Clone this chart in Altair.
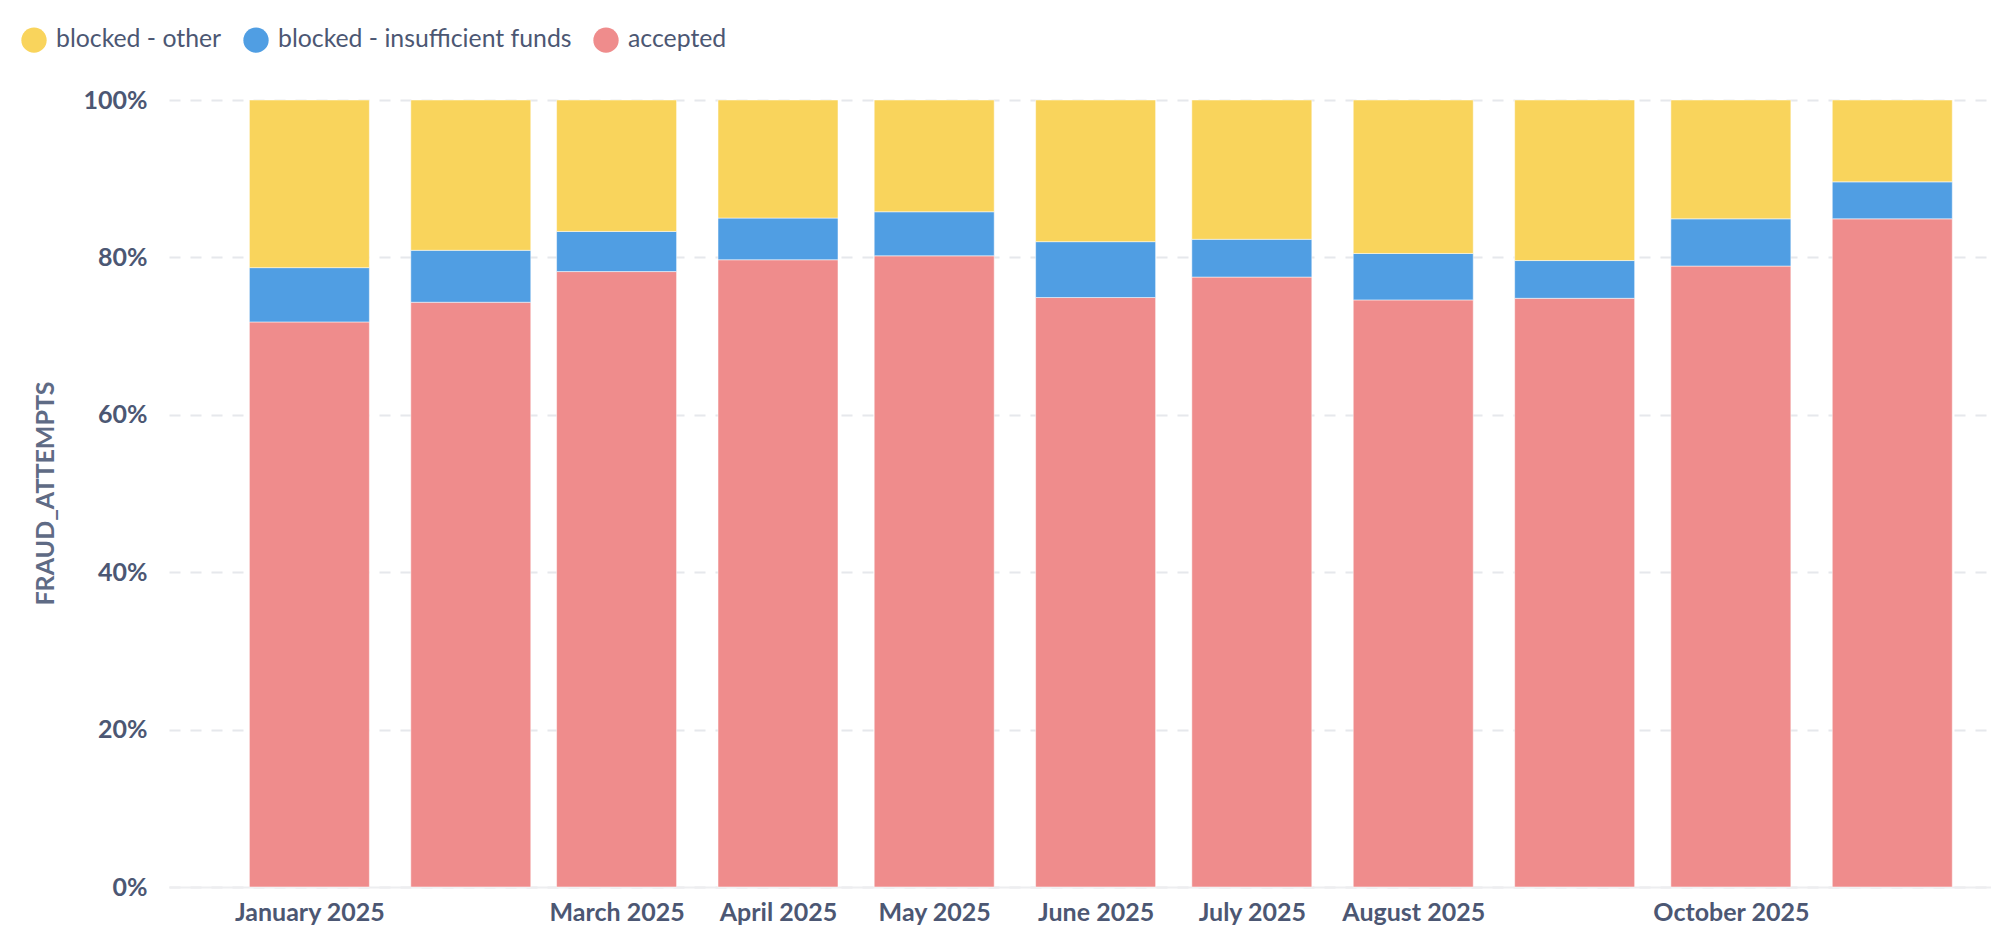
import altair as alt
import pandas as pd

# monthly shares of fraud attempts (percent)
months = [
    "2025-01-01T00:00", "2025-02-01T00:00", "2025-03-01T00:00", "2025-04-01T00:00",
    "2025-05-01T00:00", "2025-06-01T00:00", "2025-07-01T00:00", "2025-08-01T00:00",
    "2025-09-01T00:00", "2025-10-01T00:00", "2025-11-01T00:00",
]
accepted = [71.8, 74.3, 78.2, 79.7, 80.2, 74.9, 77.5, 74.6, 74.8, 78.9, 84.9]
insufficient_funds = [6.9, 6.6, 5.1, 5.3, 5.6, 7.1, 4.8, 5.9, 4.8, 6.0, 4.7]
blocked_other = [21.3, 19.1, 16.7, 15.0, 14.2, 18.0, 17.7, 19.5, 20.4, 15.1, 10.4]

statuses = ["blocked - other", "blocked - insufficient funds", "accepted"]
status_colors = ["#F9D45C", "#509EE3", "#EF8C8C"]

# months that get an axis label (Feb, Sep and Nov are left unlabelled)
labelled_months = [1, 3, 4, 5, 6, 7, 8, 10]

rows = []
for i, m in enumerate(months):
    rows.append({"month": m, "status": "accepted", "share": accepted[i], "rank": 0})
    rows.append({"month": m, "status": "blocked - insufficient funds", "share": insufficient_funds[i], "rank": 1})
    rows.append({"month": m, "status": "blocked - other", "share": blocked_other[i], "rank": 2})
df = pd.DataFrame(rows)

text_color = "#4C5773"

chart = alt.Chart(df).mark_bar(
    width=120, stroke="white", strokeWidth=1, strokeOpacity=0.5
).encode(
    x=alt.X(
        "month:T",
        title=None,
        scale=alt.Scale(domain=[
            alt.DateTime(year=2024, month=12, date=6),
            alt.DateTime(year=2025, month=11, date=19),
        ]),
        axis=alt.Axis(
            values=[alt.DateTime(year=2025, month=m, date=1) for m in labelled_months],
            format="%B %Y",
            labelOverlap=False,
            ticks=False,
            grid=False,
            domainColor="#EDEEF0",
            domainWidth=2,
            labelFontSize=25,
            labelFontWeight="bold",
            labelColor=text_color,
            labelPadding=13,
        ),
    ),
    y=alt.Y(
        "share:Q",
        stack="normalize",
        title="FRAUD_ATTEMPTS",
        scale=alt.Scale(domain=[0, 1]),
        axis=alt.Axis(
            format=".0%",
            values=[0, 0.2, 0.4, 0.6, 0.8, 1.0],
            domain=False,
            ticks=False,
            gridDash=[11, 10],
            gridColor="#E6E8EC",
            gridWidth=2,
            labelFontSize=25,
            labelFontWeight="bold",
            labelColor=text_color,
            labelPadding=22,
            titleFontSize=25,
            titleFontWeight="bold",
            titleColor="#5F6B85",
            titleAngle=-90,
            titleX=-124,
            titleY=393,
            titleAlign="center",
            titleBaseline="middle",
        ),
    ),
    color=alt.Color(
        "status:N",
        scale=alt.Scale(domain=statuses, range=status_colors),
        legend=alt.Legend(
            title=None,
            orient="none",
            direction="horizontal",
            legendX=-148,
            legendY=-73,
            symbolType="circle",
            symbolSize=640,
            symbolStrokeWidth=0,
            symbolOpacity=1,
            labelFontSize=24.8,
            labelColor=text_color,
            labelLimit=0,
            labelOffset=9,
            columnPadding=21,
            padding=0,
        ),
    ),
    order=alt.Order("rank:Q", sort="ascending"),
).properties(
    width=1822,
    height=787,
    autosize=alt.AutoSizeParams(type="none"),
    padding={"left": 161, "top": 92, "right": 0, "bottom": 55},
).configure(
    font="Lato",
).configure_view(
    stroke=None,
)

chart.save("out.html", embed_options={"renderer": "svg", "actions": False})
